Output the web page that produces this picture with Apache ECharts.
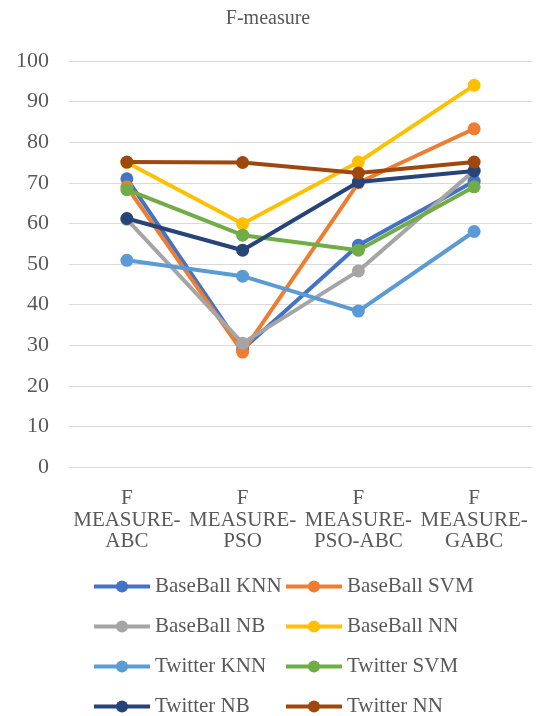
<!DOCTYPE html>
<html>
<head>
<meta charset="utf-8">
<script src="https://cdn.jsdelivr.net/npm/echarts@6/dist/echarts.min.js"></script>
<style>
  html, body { margin: 0; padding: 0; background: #fff; }
  #chart { width: 536px; height: 716px; }
</style>
</head>
<body>
<div id="chart"></div>
<script>
// Methods compared on the x axis
const categories = ['F\nMEASURE-\nABC', 'F\nMEASURE-\nPSO', 'F\nMEASURE-\nPSO-ABC', 'F\nMEASURE-\nGABC'];

// F-measure scores per dataset / classifier
const baseballKNN = [71.0, 29.0, 54.6, 70.4];
const baseballSVM = [69.0, 28.3, 70.0, 83.3];
const baseballNB  = [61.0, 30.5, 48.3, 73.0];
const baseballNN  = [75.0, 59.9, 75.1, 94.0];
const twitterKNN  = [50.9, 47.0, 38.4, 58.0];
const twitterSVM  = [68.3, 57.1, 53.4, 69.0];
const twitterNB   = [61.2, 53.4, 70.2, 72.9];
const twitterNN   = [75.1, 75.0, 72.4, 75.1];

const seriesNames = ['BaseBall KNN', 'BaseBall SVM', 'BaseBall NB', 'BaseBall NN',
                     'Twitter KNN', 'Twitter SVM', 'Twitter NB', 'Twitter NN'];
const seriesValues = [baseballKNN, baseballSVM, baseballNB, baseballNN,
                      twitterKNN, twitterSVM, twitterNB, twitterNN];
const palette = ['#4472C4', '#ED7D31', '#A5A5A5', '#FFC000',
                 '#5B9BD5', '#70AD47', '#264478', '#9E480E'];

const FONT = 'Liberation Serif';
const TEXT = '#595959';

const chart = echarts.init(document.getElementById('chart'), null, { renderer: 'canvas' });

// Two vertical legend columns
const legendBase = {
  orient: 'vertical',
  top: 576,
  height: 200,
  padding: 0,
  itemWidth: 56,
  itemHeight: 15,
  itemGap: 19,
  lineStyle: { width: 4 },
  textStyle: { fontFamily: FONT, fontSize: 21, color: TEXT, lineHeight: 21 }
};

chart.setOption({
  animation: false,
  color: palette,
  title: {
    text: 'F-measure',
    left: 'center',
    top: 4,
    textStyle: { fontFamily: FONT, fontSize: 20, fontWeight: 'normal', color: TEXT }
  },
  legend: [
    Object.assign({}, legendBase, { left: 92, data: ['BaseBall KNN', 'BaseBall NB', 'Twitter KNN', 'Twitter NB'] }),
    Object.assign({}, legendBase, { left: 284, data: ['BaseBall SVM', 'BaseBall NN', 'Twitter SVM', 'Twitter NN'] })
  ],
  grid: { left: 69, right: 4, top: 61, bottom: 249, containLabel: false },
  xAxis: {
    type: 'category',
    data: categories,
    boundaryGap: true,
    axisLine: { show: true, lineStyle: { color: '#D9D9D9', width: 1 } },
    axisTick: { show: false },
    axisLabel: {
      fontFamily: FONT, fontSize: 21, color: TEXT, lineHeight: 21.5,
      margin: 21, interval: 0
    }
  },
  yAxis: {
    type: 'value',
    min: 0, max: 100, interval: 10,
    axisLine: { show: false },
    axisTick: { show: false },
    splitLine: { lineStyle: { color: '#D9D9D9', width: 1 } },
    axisLabel: { fontFamily: FONT, fontSize: 22, color: TEXT, margin: 20 }
  },
  series: seriesNames.map((name, i) => ({
    name: name,
    type: 'line',
    data: seriesValues[i],
    symbol: 'circle',
    symbolSize: 13,
    lineStyle: { width: 4, color: palette[i] },
    itemStyle: { color: palette[i] },
    z: 2 + i
  }))
});
</script>
</body>
</html>
